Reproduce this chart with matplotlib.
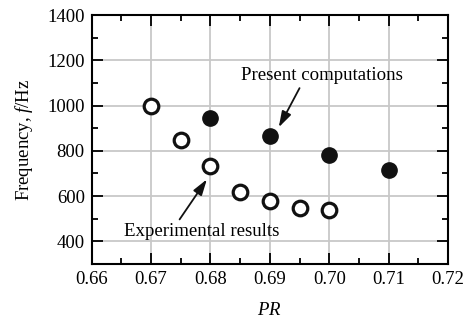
import matplotlib
matplotlib.use('Agg')
import matplotlib.pyplot as plt
from matplotlib.ticker import MultipleLocator

plt.rcParams['font.family'] = 'Liberation Serif'
plt.rcParams['mathtext.fontset'] = 'custom'
plt.rcParams['mathtext.rm'] = 'Liberation Serif'
plt.rcParams['mathtext.it'] = 'Liberation Serif:italic'

# measured frequencies
pr_exp = [0.670, 0.675, 0.680, 0.685, 0.690, 0.695, 0.700]
f_exp = [996, 849, 732, 618, 578, 549, 537]
pr_cmp = [0.680, 0.690, 0.700, 0.710]
f_cmp = [944, 867, 781, 717]

fig = plt.figure(figsize=(4.68, 3.25), dpi=100)
ax = fig.add_axes([91.7/468, 1-264/325, (448-91.7)/468, (264-15)/325])

ax.grid(True, color='#c8c8c8', lw=1.3, zorder=0)
ax.plot(pr_exp, f_exp, 'o', ms=10.5, mfc='white', mec='#111111', mew=2.3, zorder=3)
ax.plot(pr_cmp, f_cmp, 'o', ms=11, mfc='#111111', mec='#111111', zorder=3)

ax.set_xlim(0.66, 0.72)
ax.set_ylim(300, 1400)
ax.xaxis.set_minor_locator(MultipleLocator(0.005))
ax.yaxis.set_minor_locator(MultipleLocator(100))
ax.set_xticks([0.66, 0.67, 0.68, 0.69, 0.70, 0.71, 0.72])
ax.set_xticklabels(['0.66', '0.67', '0.68', '0.69', '0.70', '0.71', '0.72'])
ax.set_yticks([400, 600, 800, 1000, 1200, 1400])
ax.tick_params(which='both', direction='in', top=True, right=True, width=1.3,
               labelsize=13.5, pad=5)
ax.tick_params(which='major', length=8)
ax.tick_params(which='minor', length=4)
for s in ax.spines.values():
    s.set_linewidth(1.5)

ax.set_xlabel('$\\it{PR}$', fontsize=13.5, labelpad=10)
ax.set_ylabel('Frequency, $\\it{f}$/Hz', fontsize=13.5, labelpad=9)

# labels and their pointer arrows
ax.text(0.6988, 1134, 'Present computations', ha='center', va='center', fontsize=13.6)
ax.text(0.6785, 444, 'Experimental results', ha='center', va='center', fontsize=13.6)
arrow = dict(arrowstyle='-|>,head_length=0.8,head_width=0.25', color='#111111',
             lw=1.3, shrinkA=0, shrinkB=0, mutation_scale=12)
ax.annotate('', xy=(0.6915, 904), xytext=(0.6950, 1077), arrowprops=arrow)
ax.annotate('', xy=(0.6794, 674), xytext=(0.6748, 497), arrowprops=arrow)

fig.savefig('out.png', dpi=100)
